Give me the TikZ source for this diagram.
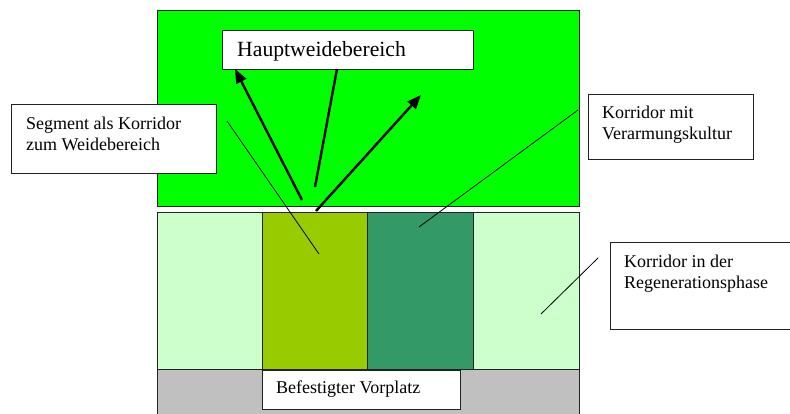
\documentclass[tikz,border=0pt]{standalone}
\usepackage{fontspec}
\setmainfont{Liberation Serif}
\usetikzlibrary{arrows.meta,calc}
\definecolor{mygreen}{HTML}{00FF00}
\definecolor{lightg}{HTML}{CCFFCC}
\definecolor{olive}{HTML}{99CC00}
\definecolor{darkg}{HTML}{339966}
\definecolor{greyv}{HTML}{C0C0C0}
\definecolor{edge}{HTML}{222222}
\tikzset{
  area/.style={draw=edge, line width=0.9pt},
  labelbox/.style={draw=edge, fill=white, line width=1.1pt, inner sep=0pt},
  txt/.style={inner sep=0pt, font=\fontsize{18}{21}\selectfont, anchor=base west},
  bigtxt/.style={inner sep=0pt, font=\fontsize{21.7}{25}\selectfont, anchor=base west},
  bigarrow/.style={line width=2.4pt, -{Triangle[length=14pt,width=11pt]}},
  bigline/.style={line width=2.4pt},
  pointer/.style={line width=0.8pt}
}
\begin{document}
\begin{tikzpicture}[x=1pt,y=-1pt]
\useasboundingbox (0,0) rectangle (790,413);
% areas
\path[area, fill=mygreen] (157,10) rectangle (579,206);
\path[area, fill=lightg] (157,212) rectangle (579,369);
\path[area, fill=greyv] (157,369) rectangle (579,420);
\path[area, fill=olive] (262,212) rectangle (367,369);
\path[area, fill=darkg] (367,212) rectangle (473,369);
% label boxes
\node[labelbox, minimum width=251, minimum height=39, anchor=north west] (haupt) at (222,30) {};
\node[bigtxt] (hauptt) at ($(haupt.north west)+(15,26)$) {Hauptweidebereich};
\node[labelbox, minimum width=205, minimum height=69, anchor=north west] (seg) at (11,104) {};
\node[txt] (seg1) at ($(seg.north west)+(15,25)$) {Segment als Korridor};
\node[txt] (seg2) at ($(seg.north west)+(15,46)$) {zum Weidebereich};
\node[labelbox, minimum width=165, minimum height=65, anchor=north west] (verarm) at (588,94) {};
\node[txt] (verarm1) at ($(verarm.north west)+(14,24)$) {Korridor mit};
\node[txt] (verarm2) at ($(verarm.north west)+(14,45)$) {Verarmungskultur};
\node[labelbox, minimum width=200, minimum height=87, anchor=north west] (regen) at (610,242) {};
\node[txt] (regen1) at ($(regen.north west)+(14,25)$) {Korridor in der};
\node[txt] (regen2) at ($(regen.north west)+(14,46)$) {Regenerationsphase};
\node[labelbox, minimum width=198, minimum height=39, anchor=north west] (vor) at (262,370) {};
\node[txt] (vor1) at ($(vor.north west)+(14,23)$) {Befestigter Vorplatz};
% arrows
\coordinate (a1s) at (302,200);
\coordinate (a1e) at (235,69);
\coordinate (a2s) at (316,211);
\coordinate (a2e) at (421,95);
\coordinate (m1s) at (315,187);
\coordinate (m1e) at (337,69);
\draw[bigarrow] (a1s) -- (a1e);
\draw[bigarrow] (a2s) -- (a2e);
\draw[bigline] (m1s) -- (m1e);
% pointers
\coordinate (p1s) at (227,121);
\coordinate (p1e) at (319,254);
\coordinate (p2s) at (578,110);
\coordinate (p2e) at (419,227);
\coordinate (p3s) at (598,258);
\coordinate (p3e) at (541,314);
\draw[pointer] (p1s) -- (p1e);
\draw[pointer] (p2s) -- (p2e);
\draw[pointer] (p3s) -- (p3e);
\end{tikzpicture}
\end{document}
